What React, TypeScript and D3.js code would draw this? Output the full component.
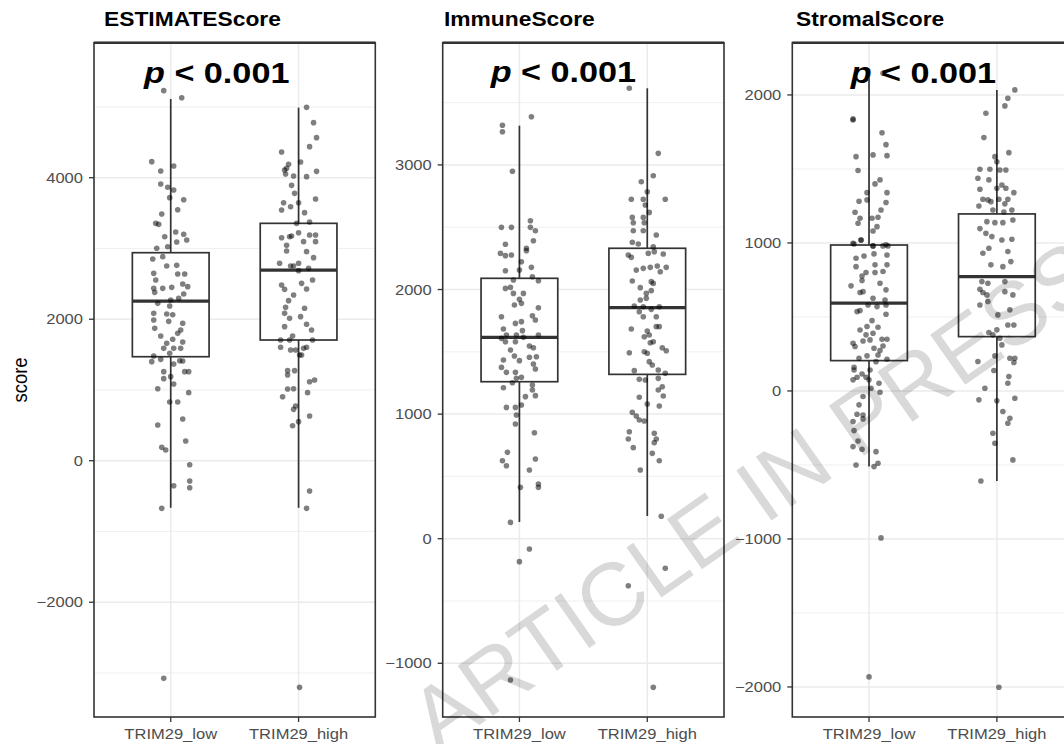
import React from "react";
import * as d3 from "d3";

// ---------- data ----------
const categories = ["TRIM29_low", "TRIM29_high"];
const panelTitles = ["ESTIMATEScore", "ImmuneScore", "StromalScore"];
const yAxisTitle = "score";
const pLabel = "< 0.001";

const estimateDomain = [-3622, 5908];
const immuneDomain = [-1431, 3981];
const stromalDomain = [-2203, 2353];

const estimateTicks = [-2000, 0, 2000, 4000];
const immuneTicks = [-1000, 0, 1000, 2000, 3000];
const stromalTicks = [-2000, -1000, 0, 1000, 2000];

const estimateMinor = [-3000, -1000, 1000, 3000, 5000];
const immuneMinor = [-500, 500, 1500, 2500, 3500];
const stromalMinor = [-1500, -500, 500, 1500];

// box stats: [lower whisker, q1, median, q3, upper whisker]
const estimateBoxLow = [-665, 1470, 2257, 2940, 5112];
const estimateBoxHigh = [-665, 1706, 2695, 3355, 4990];
const immuneBoxLow = [134, 1260, 1616, 2090, 3315];
const immuneBoxHigh = [182, 1319, 1854, 2331, 3615];
const stromalBoxLow = [-511, 205, 593, 986, 2115];
const stromalBoxHigh = [-608, 367, 772, 1196, 2034];

// points: [jitter (1/128 of category step), value]
const estimateLowPts = [
  [-7, 5230], [11, 5131], [-19, 4227], [-10, 4095], [3, 4165], [-10, 3911], [-3, 3864], [3, 3826],
  [-1, 3718], [13, 3689], [7, 3548], [-9, 3487], [-15, 3355], [-12, 3341], [-6, 3166], [5, 3233],
  [13, 3200], [16, 3119], [6, 3091], [-14, 3002], [-3, 3025], [-18, 2851], [-8, 2884], [-4, 2752],
  [6, 2761], [-17, 2648], [7, 2639], [14, 2639], [-15, 2554], [12, 2498], [17, 2460], [-17, 2436],
  [-8, 2436], [1, 2450], [-16, 2380], [13, 2356], [8, 2295], [-13, 2224], [0, 2271], [-1, 2187],
  [-17, 2083], [-4, 2074], [2, 2064], [-17, 1988], [-2, 1970], [12, 1942], [10, 1847], [-16, 1871],
  [-10, 1763], [7, 1800], [12, 1678], [-4, 1659], [2, 1716], [-7, 1588], [3, 1588], [10, 1588],
  [-1, 1518], [-17, 1480], [-10, 1433], [-19, 1400], [3, 1367], [9, 1414], [12, 1410], [14, 1259],
  [18, 1259], [-7, 1259], [-7, 1160], [0, 1188], [3, 1084], [-13, 1018], [18, 962], [-1, 830],
  [7, 830], [12, 590], [-13, 505], [15, 279], [-9, 189], [-5, 151], [19, -56], [3, -353],
  [19, -287], [19, -381], [-9, -673], [-7, -3076],
];
const estimateHighPts = [
  [8, 4994], [15, 4778], [18, 4566], [11, 4439], [-17, 4363], [2, 4222], [-10, 4189], [-14, 4109],
  [-12, 4132], [-5, 4024], [8, 4015], [18, 4090], [-13, 4052], [-7, 3892], [-4, 3779], [17, 3699],
  [-15, 3647], [-17, 3543], [-8, 3590], [0, 3647], [6, 3506], [11, 3374], [-2, 3355], [-17, 3152],
  [-9, 3166], [-7, 3176], [0, 3223], [11, 3190], [17, 3190], [5, 3096], [-12, 3044], [17, 3096],
  [-12, 2964], [8, 2955], [15, 2870], [-19, 2790], [-8, 2752], [0, 2790], [0, 2686], [10, 2719],
  [-5, 2752], [14, 2554], [-17, 2484], [-14, 2422], [3, 2507], [8, 2427], [-5, 2342], [-10, 2262],
  [-13, 2168], [6, 2154], [-14, 2083], [-9, 2012], [2, 2036], [8, 1928], [-14, 1895], [13, 1848],
  [-6, 1763], [-18, 1706], [-9, 1706], [14, 1706], [-18, 1603], [-8, 1565], [-3, 1565], [5, 1588],
  [8, 1603], [1, 1494], [3, 1494], [-11, 1273], [-4, 1273], [-11, 1212], [11, 1117], [16, 1141],
  [-11, 1013], [-5, 1018], [9, 962], [-16, 905], [-3, 773], [-5, 726], [11, 632], [0, 552],
  [-6, 495], [11, -428], [8, -673], [1, -3203],
];
const immuneLowPts = [
  [-17, 3318], [-17, 3266], [12, 3387], [-7, 2949], [-18, 2499], [-8, 2499], [11, 2552], [16, 2472],
  [11, 2499], [-14, 2363], [14, 2392], [7, 2331], [-19, 2290], [-14, 2272], [-8, 2277], [7, 2312],
  [2, 2223], [-14, 2151], [0, 2156], [12, 2178], [13, 2103], [-6, 2076], [19, 2071], [-14, 2009],
  [-9, 2017], [-6, 1969], [4, 1969], [0, 1921], [-5, 1876], [2, 1889], [-18, 1782], [13, 1790],
  [16, 1755], [19, 1854], [-4, 1728], [2, 1742], [-16, 1683], [3, 1670], [-13, 1635], [-3, 1635],
  [19, 1635], [-18, 1608], [4, 1616], [-14, 1581], [-4, 1581], [10, 1547], [-9, 1514], [14, 1533],
  [-5, 1466], [0, 1429], [10, 1456], [17, 1461], [-16, 1434], [14, 1402], [-18, 1375], [-13, 1335],
  [-4, 1335], [16, 1362], [-3, 1287], [2, 1295], [-7, 1252], [13, 1234], [-16, 1212], [13, 1193],
  [16, 1148], [6, 1140], [2, 1073], [-13, 1054], [-4, 1054], [-3, 993], [-4, 921], [15, 851],
  [-12, 693], [-17, 626], [-13, 586], [16, 640], [10, 552], [1, 412], [19, 439], [19, 412],
  [-9, 131], [10, -83], [0, -184], [-9, -1134],
];
const immuneHighPts = [
  [-18, 3615], [11, 3093], [6, 2913], [-6, 2865], [0, 2785], [-16, 2724], [-4, 2724], [18, 2724],
  [-2, 2678], [2, 2619], [-15, 2579], [-14, 2536], [-4, 2579], [-3, 2536], [9, 2437], [-14, 2472],
  [-4, 2472], [-15, 2379], [-9, 2365], [6, 2343], [-19, 2277], [-16, 2258], [1, 2290], [7, 2304],
  [16, 2285], [-11, 2156], [-4, 2170], [3, 2178], [10, 2189], [19, 2178], [13, 2143], [-15, 2068],
  [-7, 2015], [4, 2063], [6, 2049], [-1, 1969], [4, 1991], [-7, 1916], [-1, 1929], [-13, 1868],
  [-4, 1862], [4, 1841], [12, 1862], [-8, 1822], [-4, 1782], [9, 1782], [-16, 1683], [0, 1667],
  [9, 1702], [2, 1635], [-3, 1621], [12, 1702], [3, 1573], [6, 1581], [-18, 1493], [-3, 1501],
  [0, 1488], [15, 1533], [19, 1509], [2, 1421], [5, 1394], [-13, 1349], [11, 1354], [18, 1327],
  [-8, 1279], [-2, 1274], [11, 1287], [15, 1220], [11, 1193], [16, 1145], [-8, 1135], [0, 1081],
  [12, 1065], [-15, 1014], [-11, 985], [-8, 953], [-3, 945], [-18, 859], [7, 846], [-19, 800],
  [9, 800], [7, 771], [-14, 731], [5, 685], [12, 626], [-7, 552], [14, 180], [18, -238],
  [-19, -377], [6, -1193],
];
const stromalLowPts = [
  [14, 2147], [-16, 1838], [-16, 1831], [13, 1745], [17, 1664], [-13, 1583], [4, 1595], [18, 1590],
  [-11, 1489], [6, 1399], [11, 1426], [-2, 1340], [18, 1340], [-10, 1282], [-2, 1291], [17, 1273],
  [-14, 1207], [12, 1223], [-9, 1167], [3, 1167], [9, 1174], [-11, 1133], [4, 1081], [8, 1110],
  [-16, 998], [-8, 1020], [4, 980], [14, 980], [-15, 993], [-8, 1020], [4, 980], [17, 987],
  [19, 980], [-13, 897], [-5, 912], [5, 926], [18, 919], [-13, 840], [6, 852], [18, 852],
  [-3, 800], [-7, 777], [6, 800], [14, 807], [-7, 746], [-18, 710], [11, 728], [17, 683],
  [-9, 665], [-6, 671], [4, 626], [16, 615], [-1, 581], [8, 570], [17, 581], [-12, 536],
  [-9, 543], [17, 518], [3, 475], [-2, 435], [9, 430], [-9, 412], [-3, 379], [4, 390],
  [13, 349], [18, 349], [-16, 322], [-6, 338], [1, 345], [-14, 300], [5, 289], [14, 304],
  [11, 273], [-2, 237], [-10, 221], [9, 243], [18, 214], [7, 198], [-15, 160], [-15, 142],
  [-7, 115], [1, 142], [-16, 75], [-12, 93], [-3, 93], [0, 75], [10, 52], [2, 18],
  [11, -9], [-6, -38], [-10, -94], [-12, -157], [-6, -162], [-16, -207], [-6, -189], [-15, -268],
  [-11, -338], [-16, -376], [-7, -394], [7, -410], [-13, -500], [5, -511], [9, -488], [12, -993],
  [0, -1932],
];
const stromalHighPts = [
  [18, 2034], [11, 1978], [8, 1926], [-11, 1876], [-13, 1712], [12, 1610], [-2, 1583], [0, 1549],
  [-17, 1498], [-7, 1498], [3, 1493], [9, 1493], [-19, 1437], [-8, 1426], [0, 1370], [9, 1370],
  [5, 1392], [-17, 1363], [17, 1340], [-14, 1295], [-9, 1291], [-6, 1279], [2, 1295], [11, 1295],
  [8, 1264], [-18, 1250], [-4, 1223], [7, 1209], [15, 1223], [-17, 1097], [-10, 1144], [-2, 1137],
  [6, 1137], [16, 1155], [-11, 1065], [-5, 1043], [5, 1020], [15, 1025], [-8, 964], [-14, 930],
  [11, 942], [-6, 852], [6, 840], [14, 874], [-15, 739], [-9, 728], [8, 739], [-17, 687],
  [-14, 665], [-10, 649], [8, 671], [16, 649], [-17, 581], [-9, 604], [13, 548], [1, 514],
  [11, 446], [17, 446], [-8, 395], [0, 413], [-4, 379], [3, 356], [5, 311], [-19, 199],
  [-2, 237], [13, 221], [18, 221], [-3, 138], [17, 192], [12, 97], [-12, 18], [11, 52],
  [-18, -60], [0, -67], [18, -49], [6, -139], [13, -184], [11, -218], [-4, -286], [-2, -353],
  [16, -466], [-16, -608], [2, -2002],
];

// ---------- layout ----------
const W = 1064;
const H = 744;
const STRETCH = 1.14;
const FONT = "'Liberation Sans', Arial, Helvetica, sans-serif";

const panels = [
  {
    title: panelTitles[0], left: 94, titleX: 104, pX: 144, pY: 83.3,
    domain: estimateDomain, ticks: estimateTicks, minor: estimateMinor,
    boxes: [estimateBoxLow, estimateBoxHigh], pts: [estimateLowPts, estimateHighPts],
  },
  {
    title: panelTitles[1], left: 442.7, titleX: 444, pX: 490.7, pY: 81.7,
    domain: immuneDomain, ticks: immuneTicks, minor: immuneMinor,
    boxes: [immuneBoxLow, immuneBoxHigh], pts: [immuneLowPts, immuneHighPts],
  },
  {
    title: panelTitles[2], left: 792.3, titleX: 796, pX: 850.7, pY: 82.7,
    domain: stromalDomain, ticks: stromalTicks, minor: stromalMinor,
    boxes: [stromalBoxLow, stromalBoxHigh], pts: [stromalLowPts, stromalHighPts],
  },
];

const PANEL_W = 281.3;
const TOP = 42.7;
const BOTTOM = 717;

function Panel({ p }: { p: any }) {
  const x = d3.scaleLinear().domain([0.4, 2.6]).range([p.left, p.left + PANEL_W]);
  const step = x(2) - x(1);
  const jit = d3.scaleLinear().domain([-64, 64]).range([-step / 2, step / 2]);
  const y = d3.scaleLinear().domain(p.domain).range([BOTTOM, TOP]);
  const boxHalf = (0.6 * step) / 2;
  const right = p.left + PANEL_W;
  return (
    <g>
      <rect x={p.left} y={TOP} width={PANEL_W} height={BOTTOM - TOP} fill="#fff" />
      {p.minor.map((v: number) => (
        <line key={"mi" + v} x1={p.left} x2={right} y1={y(v)} y2={y(v)} stroke="#ececec" strokeWidth={0.8} />
      ))}
      {p.ticks.map((v: number) => (
        <line key={"ma" + v} x1={p.left} x2={right} y1={y(v)} y2={y(v)} stroke="#ebebeb" strokeWidth={1.5} />
      ))}
      {categories.map((c, i) => (
        <line key={"vg" + c} x1={x(i + 1)} x2={x(i + 1)} y1={TOP} y2={BOTTOM} stroke="#ebebeb" strokeWidth={1.5} />
      ))}
      {/* p value */}
      <text
        transform={`translate(${p.pX},${p.pY}) scale(${STRETCH},1)`}
        fontFamily={FONT} fontWeight="bold" fontSize={30} fill="#000"
      >
        <tspan fontStyle="italic">p</tspan>
        <tspan>{" " + pLabel}</tspan>
      </text>
      {/* boxes */}
      {p.boxes.map((b: number[], i: number) => {
        const cx = x(i + 1);
        return (
          <g key={"b" + i} stroke="#333" fill="none">
            <line x1={cx} x2={cx} y1={y(b[0])} y2={y(b[1])} strokeWidth={1.7} />
            <line x1={cx} x2={cx} y1={y(b[3])} y2={y(b[4])} strokeWidth={1.7} />
            <rect x={cx - boxHalf} y={y(b[3])} width={2 * boxHalf} height={y(b[1]) - y(b[3])} fill="#fff" strokeWidth={1.7} />
            <line x1={cx - boxHalf} x2={cx + boxHalf} y1={y(b[2])} y2={y(b[2])} strokeWidth={3.2} />
          </g>
        );
      })}
      {/* points */}
      {p.pts.map((arr: number[][], i: number) => (
        <g key={"p" + i} fill="#000" fillOpacity={0.5}>
          {arr.map((d, k) => (
            <circle key={k} cx={x(i + 1) + jit(d[0])} cy={y(d[1])} r={2.8} />
          ))}
        </g>
      ))}
      {/* border */}
      <rect x={p.left} y={TOP} width={PANEL_W} height={BOTTOM - TOP} fill="none" stroke="#333" strokeWidth={1.6} />
      <line x1={p.left} x2={right} y1={TOP} y2={TOP} stroke="#333" strokeWidth={2.4} />
      {/* y axis */}
      {p.ticks.map((v: number) => (
        <g key={"yt" + v}>
          <line x1={p.left - 5} x2={p.left} y1={y(v)} y2={y(v)} stroke="#333" strokeWidth={1.3} />
          <text
            transform={`translate(${p.left - 11},${y(v)}) scale(${STRETCH},1)`}
            textAnchor="end" dominantBaseline="central"
            fontFamily={FONT} fontSize={14.5} fill="#4d4d4d"
          >
            {v < 0 ? "\u2212" + Math.abs(v) : String(v)}
          </text>
        </g>
      ))}
      {/* x axis */}
      {categories.map((c, i) => (
        <g key={"xt" + c}>
          <line x1={x(i + 1)} x2={x(i + 1)} y1={BOTTOM} y2={BOTTOM + 5} stroke="#333" strokeWidth={1.3} />
          <text
            transform={`translate(${x(i + 1)},${739}) scale(${STRETCH},1)`}
            textAnchor="middle" fontFamily={FONT} fontSize={14.5} fill="#4d4d4d"
          >
            {c}
          </text>
        </g>
      ))}
      {/* title */}
      <text
        transform={`translate(${p.titleX},${25.5}) scale(${STRETCH},1)`}
        fontFamily={FONT} fontWeight="bold" fontSize={20} fill="#000"
      >
        {p.title}
      </text>
    </g>
  );
}

export default function App() {
  return (
    <svg
      width={W}
      height={H}
      viewBox={`0 0 ${W} ${H}`}
      style={{ position: "absolute", left: 0, top: 0, background: "#fff" }}
    >
      <rect x={0} y={0} width={W} height={H} fill="#fff" />
      {panels.map((p, i) => (
        <Panel key={i} p={p} />
      ))}
      <text
        transform={`translate(20,380) scale(${STRETCH},1) rotate(-90)`}
        textAnchor="middle" dominantBaseline="central"
        fontFamily={FONT} fontSize={18.5} fill="#000"
      >
        {yAxisTitle}
      </text>
      {/* watermark */}
      <text
        transform="translate(438,754) rotate(-35)"
        fontFamily={FONT} fontSize={89} fill="#000" fillOpacity={0.15}
      >
        ARTICLE IN PRESS
      </text>
    </svg>
  );
}
